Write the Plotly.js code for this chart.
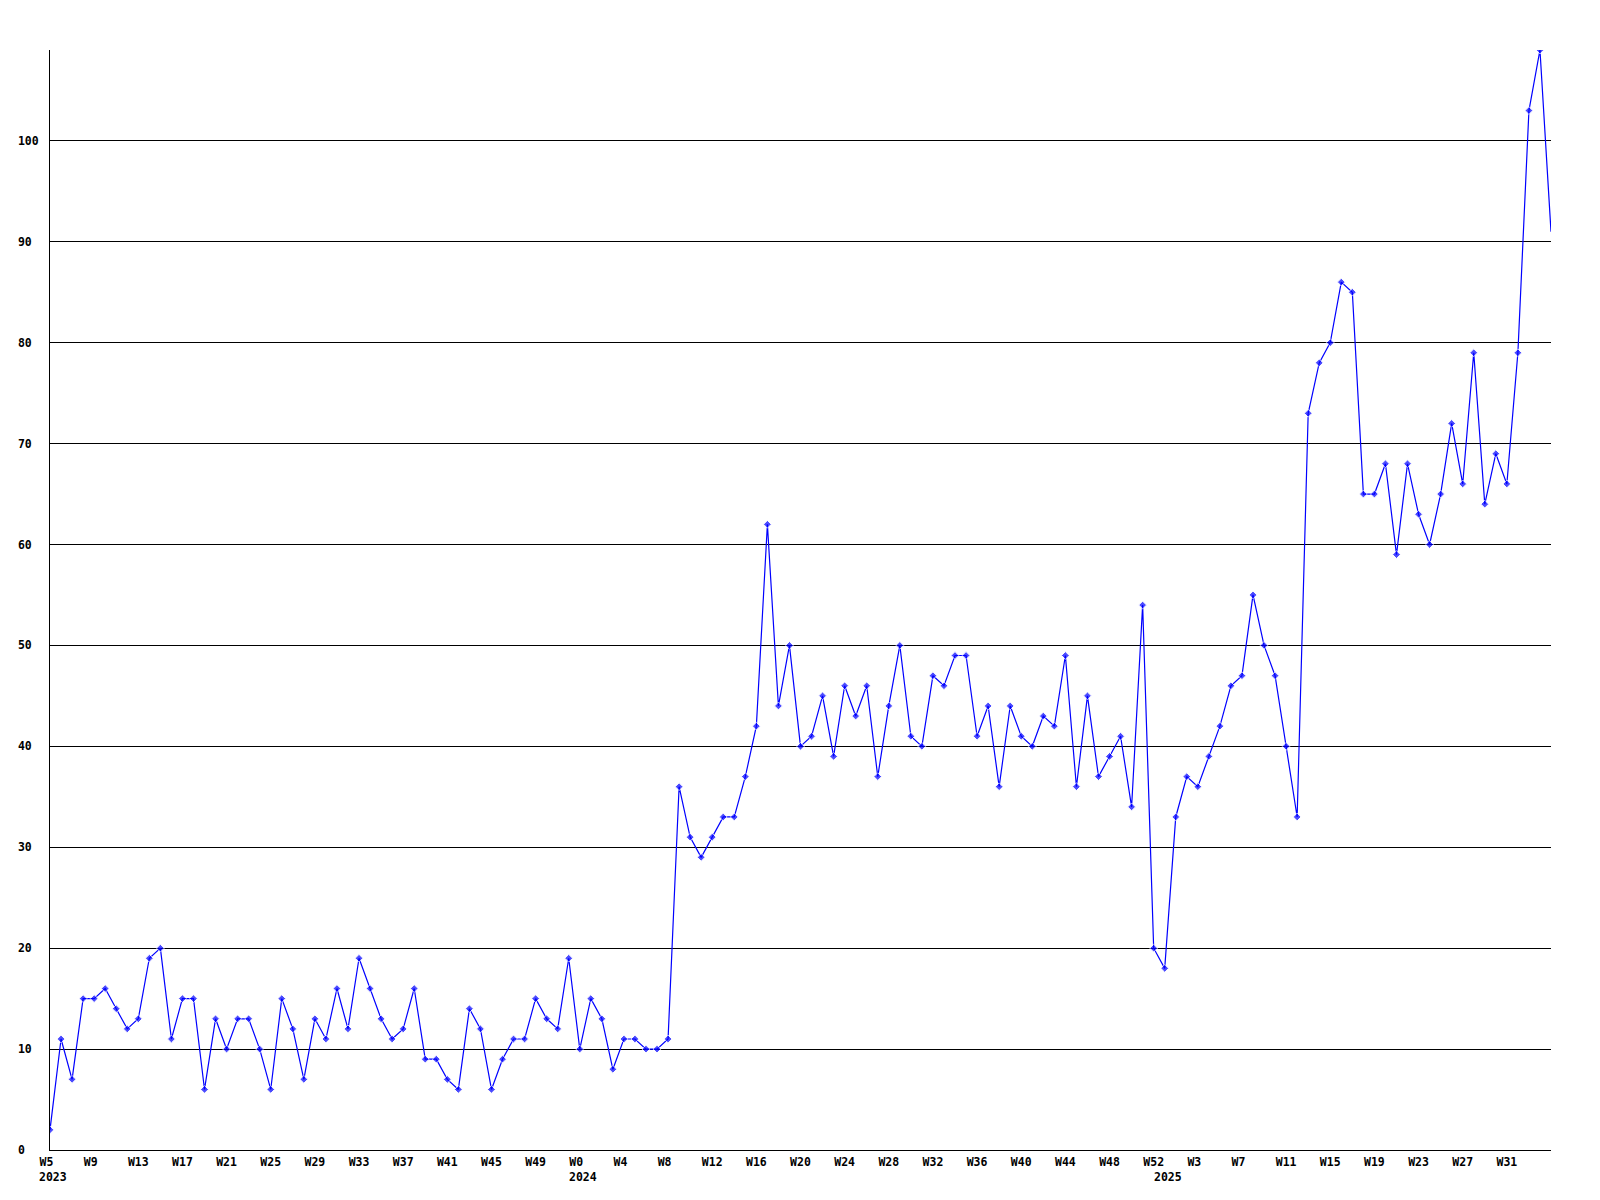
<!DOCTYPE html>
<html>
<head>
<meta charset="utf-8">
<script src="https://cdn.plot.ly/plotly-3.0.1.min.js"></script>
<style>html,body{margin:0;padding:0;background:#fff;}</style>
</head>
<body>
<div id="chart" style="width:1600px;height:1200px;"></div>
<script>
// Weekly values, 2023 W5 .. 2025 W35
const values = [
  2, 11, 7, 15, 15, 16, 14, 12, 13, 19,
  20, 11, 15, 15, 6, 13, 10, 13, 13, 10,
  6, 15, 12, 7, 13, 11, 16, 12, 19, 16,
  13, 11, 12, 16, 9, 9, 7, 6, 14, 12,
  6, 9, 11, 11, 15, 13, 12, 19, 10, 15,
  13, 8, 11, 11, 10, 10, 11, 36, 31, 29,
  31, 33, 33, 37, 42, 62, 44, 50, 40, 41,
  45, 39, 46, 43, 46, 37, 44, 50, 41, 40,
  47, 46, 49, 49, 41, 44, 36, 44, 41, 40,
  43, 42, 49, 36, 45, 37, 39, 41, 34, 54,
  20, 18, 33, 37, 36, 39, 42, 46, 47, 55,
  50, 47, 40, 33, 73, 78, 80, 86, 85, 65,
  65, 68, 59, 68, 63, 60, 65, 72, 66, 79,
  64, 69, 66, 79, 103, 109, 91
];

// x tick labels (every 4th week)
const tickText = [
  "W5","W9","W13","W17","W21","W25","W29","W33","W37","W41","W45","W49",
  "W0","W4","W8","W12","W16","W20","W24","W28","W32","W36","W40","W44","W48","W52",
  "W3","W7","W11","W15","W19","W23","W27","W31"
];
const tickStep = 4;

// year labels and the point index where each year starts
const yearText = ["2023", "2024", "2025"];
const yearStart = [0, 48, 101];

// y axis ticks
const yTicks = [0, 10, 20, 30, 40, 50, 60, 70, 80, 90, 100];

const xIdx = values.map((v, i) => i);
const tickVals = tickText.map((t, k) => k * tickStep);
const NB = "\u00a0";
const font = {family: "DejaVu Sans Mono, Liberation Mono, monospace", size: 11.5, color: "#000", weight: "bold"};
// the final point sits on the right edge, where no marker is drawn
const markerSizes = values.map((v, i) => (i === values.length - 1 ? 0 : 6));

const trace = {
  x: xIdx,
  y: values,
  type: "scatter",
  mode: "lines+markers",
  line: {color: "#0000ff", width: 1.2},
  marker: {symbol: "diamond", size: markerSizes, color: "#0000ff"},
  hoverinfo: "x+y"
};

const annotations = yearText.map((t, k) => ({
  x: yearStart[k], xref: "x",
  y: 0, yref: "paper",
  xanchor: "left", yanchor: "top",
  xshift: -13, yshift: -18,
  text: t, showarrow: false, font: font
}));

const layout = {
  width: 1600, height: 1200, autosize: false,
  margin: {l: 50, r: 49, t: 50, b: 50, pad: 0},
  paper_bgcolor: "#fff", plot_bgcolor: "#fff",
  showlegend: false,
  xaxis: {
    range: [0, values.length - 1],
    tickvals: tickVals,
    ticktext: tickText.map(t => t.padEnd(3, NB)),
    tickangle: 0,
    showgrid: false, zeroline: false,
    showline: true, linecolor: "#000", linewidth: 1,
    ticks: "", tickfont: font, ticklabelstandoff: 1
  },
  yaxis: {
    range: [0, 109],
    tickvals: yTicks,
    ticktext: yTicks.map(v => String(v).padEnd(3, NB)),
    showgrid: true, gridcolor: "#000", gridwidth: 1,
    zeroline: false,
    showline: true, linecolor: "#000", linewidth: 1,
    ticks: "", tickfont: font, ticklabelstandoff: 8
  },
  annotations: annotations
};

Plotly.newPlot("chart", [trace], layout, {staticPlot: true, displayModeBar: false});
</script>
</body>
</html>
